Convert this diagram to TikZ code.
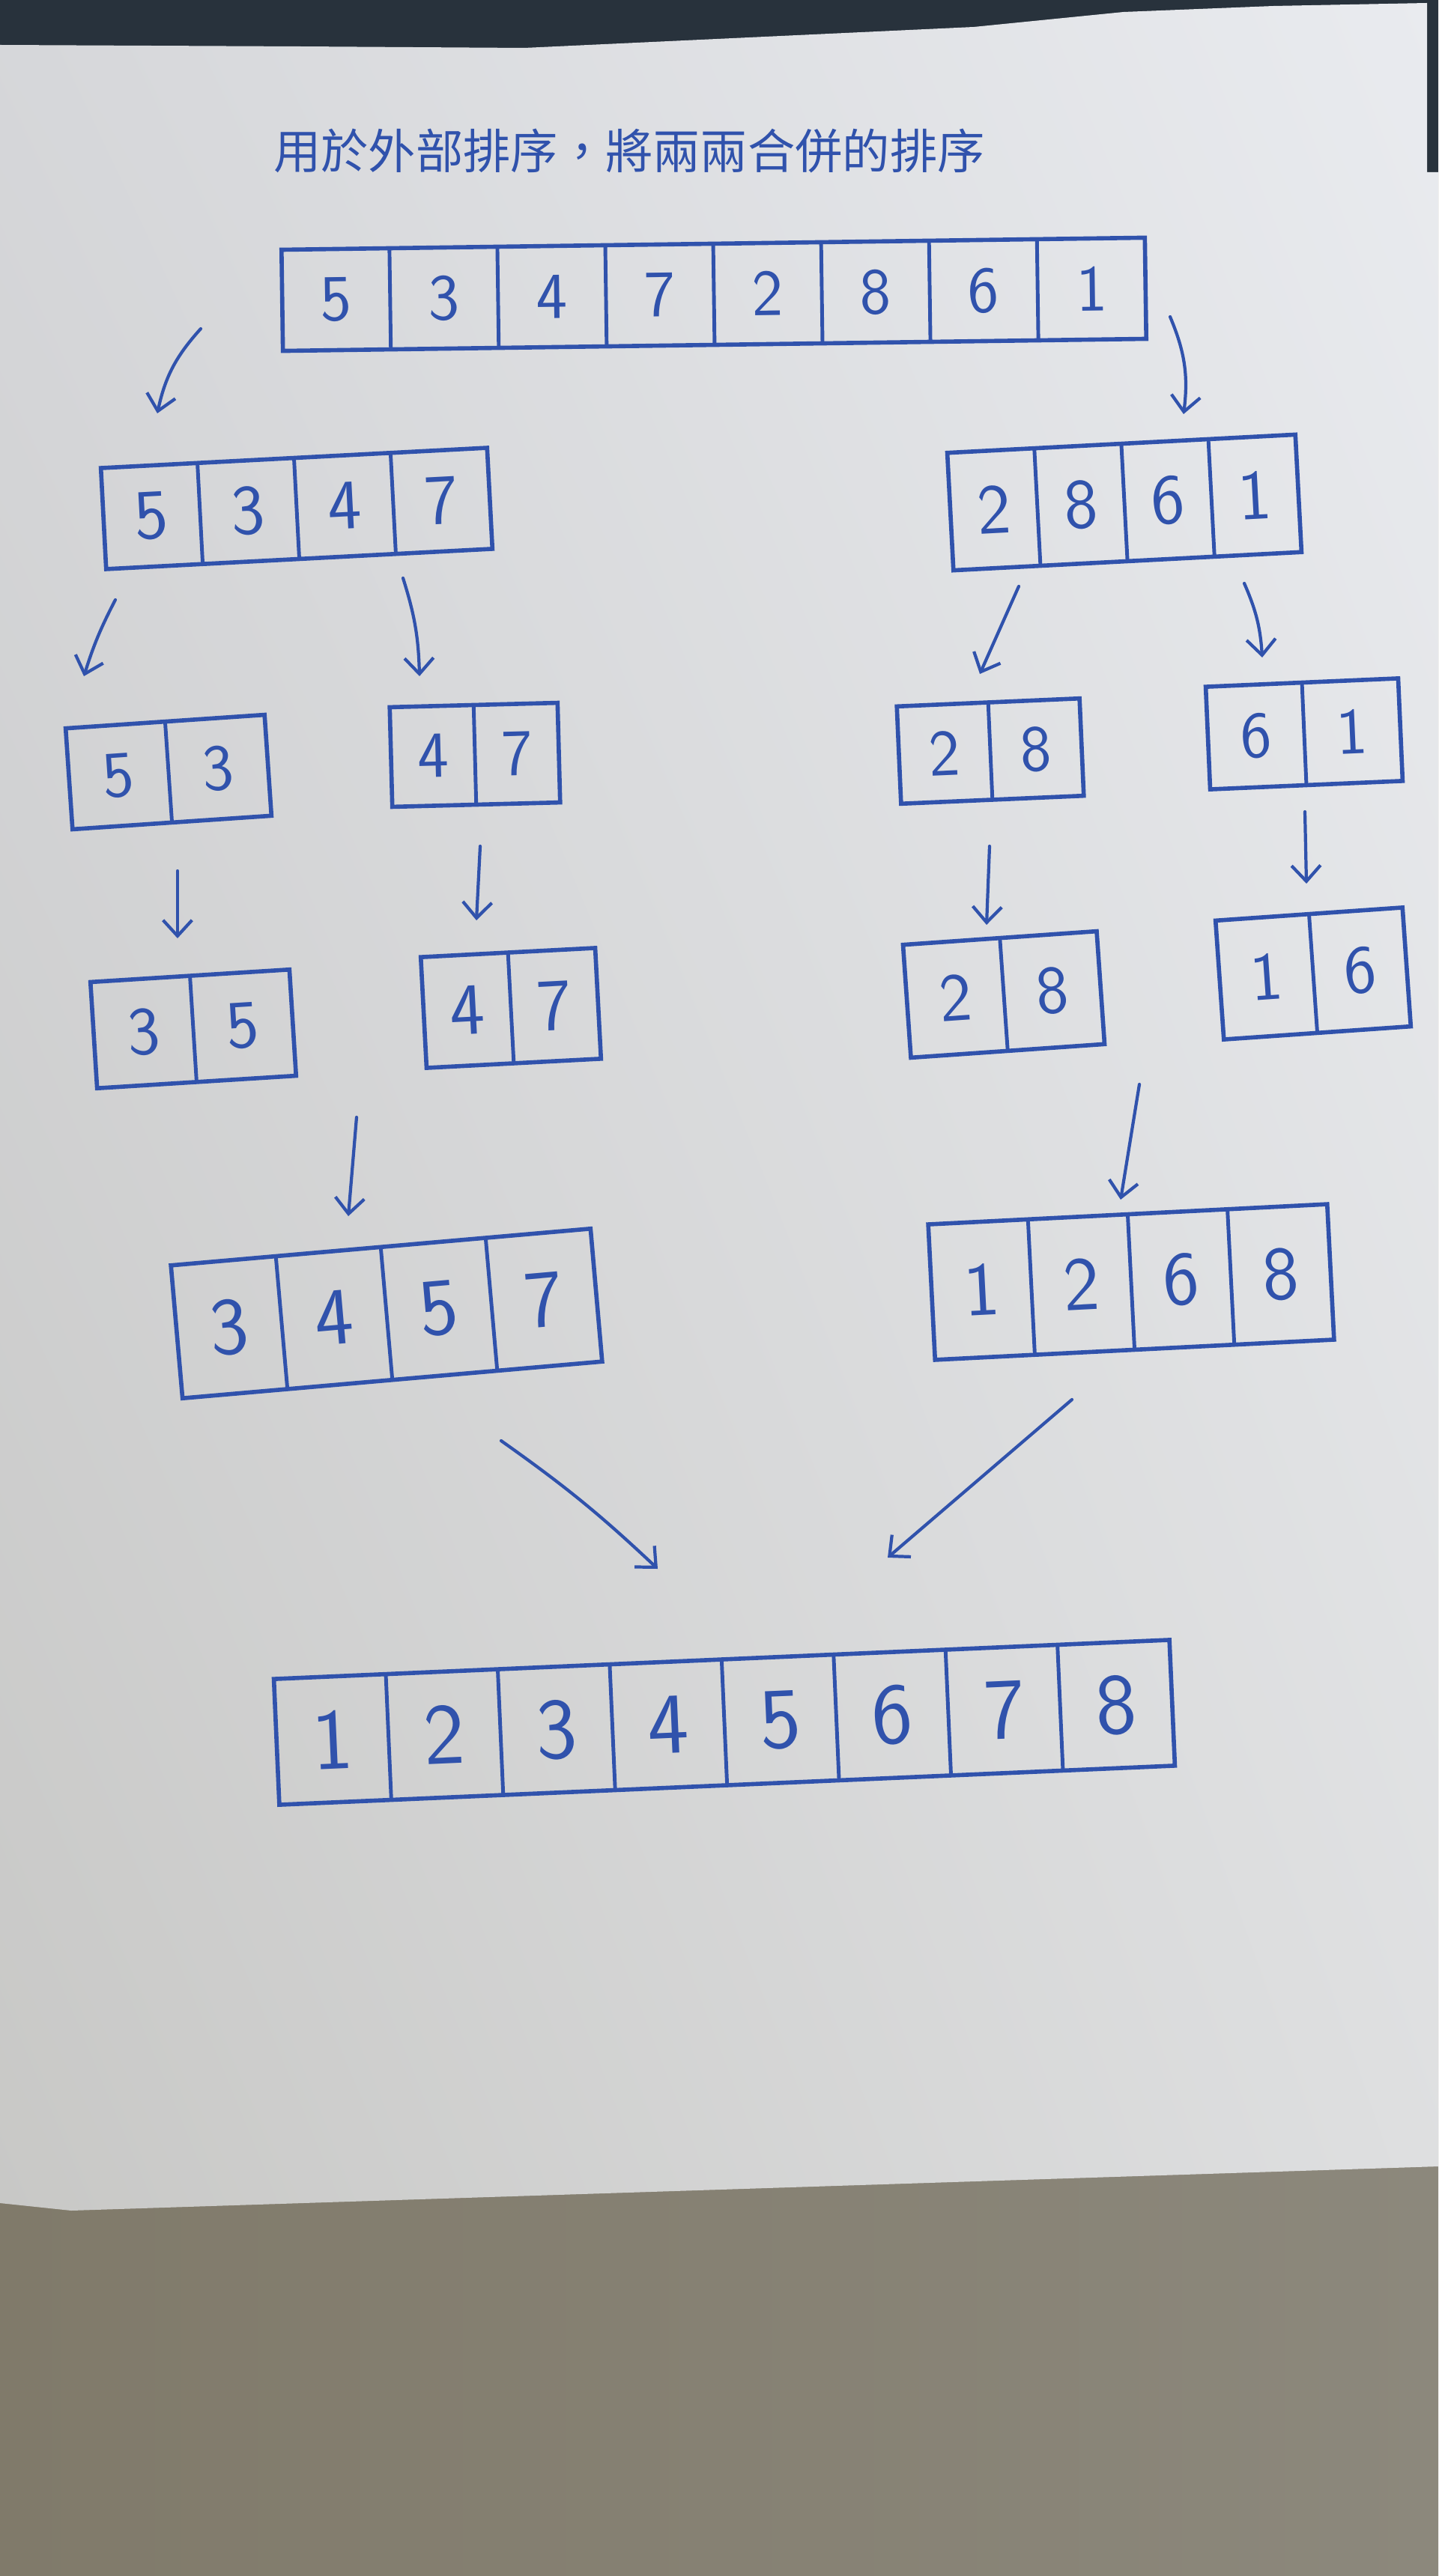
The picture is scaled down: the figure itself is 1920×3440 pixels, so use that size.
\documentclass[tikz,border=0pt]{standalone}
\usepackage{fontspec}
\newfontfamily\cjk{Noto Sans CJK TC}
\usetikzlibrary{calc,arrows.meta,shadings}

\definecolor{ink}{RGB}{48,82,172}
\definecolor{topdark}{RGB}{40,50,60}
\definecolor{tableL}{RGB}{128,122,106}
\definecolor{tableR}{RGB}{140,136,124}
\definecolor{paperTL}{RGB}{214,215,218}
\definecolor{paperTR}{RGB}{233,235,239}
\definecolor{paperBL}{RGB}{200,200,198}
\definecolor{paperBR}{RGB}{222,223,224}

% a row of numbered cells: name, x, y, width, height, tilt, cells, values, digit size
\newcommand\cellrow[9]{%
  \node[frame, minimum width=#4, minimum height=#5, rotate=#6] (#1) at (#2,#3) {};
  \pgfmathtruncatemacro\lastdiv{#7-1}
  \foreach \k in {1,...,\lastdiv}
    \draw[frameline] ($(#1.north west)!{\k/#7}!(#1.north east)$) -- ($(#1.south west)!{\k/#7}!(#1.south east)$);
  \foreach \v [count=\k] in {#8}
    \node[digit, font=\sffamily\fontsize{#9}{#9}\selectfont, rotate=#6] (#1-\k)
      at ($(#1.west)!{(2*\k-1)/(2*#7)}!(#1.east)$) {\v};
}

\begin{document}
\begin{tikzpicture}[x=0.01cm, y=-0.01cm,
  frame/.style={draw=ink, line width=1.6pt, inner sep=0pt, outer sep=0pt},
  frameline/.style={draw=ink, line width=1.4pt},
  digit/.style={text=ink, inner sep=0pt},
  flow/.style={draw=ink, line width=1.2pt, line cap=round,
    -{Straight Barb[length=6pt, width=11pt]}},
  heading/.style={text=ink, inner sep=0pt, font=\cjk\fontsize{18pt}{21pt}\selectfont}]

\useasboundingbox (0,0) rectangle (1920,3440);

% table surface and the dark band behind the sheet
\shade[left color=tableL, right color=tableR] (0,0) rectangle (1920,3440);
\fill[topdark] (0,0) rectangle (1920,300);

% the sheet of paper
\shade[upper left=paperTL, upper right=paperTR, lower left=paperBL, lower right=paperBR]
  (0,60) -- (400,62) -- (700,64) -- (1000,50) -- (1300,36) -- (1500,16) -- (1700,8)
  -- (1905,4) -- (1905,230) -- (1920,230) -- (1920,2893) -- (95,2952) -- (0,2942) -- cycle;

% heading
\node[heading] (title) at (840,202) {用於外部排序，將兩兩合併的排序};

% split levels
\cellrow{T}{953}{393}{11.52cm}{1.35cm}{0.8}{8}{5,3,4,7,2,8,6,1}{25pt}
\cellrow{La}{396}{679}{5.16cm}{1.35cm}{3}{4}{5,3,4,7}{27pt}
\cellrow{Lb}{1501}{671}{4.65cm}{1.57cm}{3}{4}{2,8,6,1}{27pt}
\cellrow{Pa}{225}{1031}{2.66cm}{1.35cm}{3.9}{2}{5,3}{25pt}
\cellrow{Pb}{634}{1008}{2.24cm}{1.33cm}{1.5}{2}{4,7}{25pt}
\cellrow{Pc}{1322}{1003}{2.44cm}{1.30cm}{2.5}{2}{2,8}{25pt}
\cellrow{Pd}{1741}{980}{2.57cm}{1.37cm}{2.5}{2}{6,1}{25pt}

% sorted pairs
\cellrow{Sa}{258}{1374}{2.66cm}{1.42cm}{3.6}{2}{3,5}{26pt}
\cellrow{Sb}{682}{1346}{2.33cm}{1.48cm}{3}{2}{4,7}{28pt}
\cellrow{Sc}{1340}{1328}{2.59cm}{1.51cm}{4}{2}{2,8}{26pt}
\cellrow{Sd}{1753}{1300}{2.50cm}{1.59cm}{4}{2}{1,6}{26pt}

% merged halves
\cellrow{Ma}{516}{1754}{5.62cm}{1.78cm}{5}{4}{3,4,5,7}{31pt}
\cellrow{Mb}{1510}{1712}{5.33cm}{1.81cm}{2.9}{4}{1,2,6,8}{29pt}

% final merge
\cellrow{F}{967}{2300}{11.96cm}{1.68cm}{2.5}{8}{1,2,3,4,5,6,7,8}{33pt}

% arrow ends
\coordinate (a1s) at (268,439);   \coordinate (a1e) at (210,552);
\coordinate (a2s) at (1562,423);  \coordinate (a2e) at (1580,553);
\coordinate (a3s) at (154,801);   \coordinate (a3e) at (112,903);
\coordinate (a4s) at (538,772);   \coordinate (a4e) at (560,903);
\coordinate (a5s) at (1360,783);  \coordinate (a5e) at (1308,900);
\coordinate (a6s) at (1661,779);  \coordinate (a6e) at (1685,878);
\coordinate (a7s) at (237,1163);  \coordinate (a7e) at (237,1253);
\coordinate (a8s) at (641,1130);  \coordinate (a8e) at (636,1229);
\coordinate (a9s) at (1321,1130); \coordinate (a9e) at (1317,1235);
\coordinate (a10s) at (1742,1084); \coordinate (a10e) at (1744,1180);
\coordinate (a11s) at (476,1492); \coordinate (a11e) at (465,1624);
\coordinate (a12s) at (1521,1448); \coordinate (a12e) at (1496,1602);
\coordinate (a13s) at (669,1924); \coordinate (a13e) at (878,2095);
\coordinate (a14s) at (1431,1869); \coordinate (a14e) at (1185,2080);

\draw[flow] (a1s) to[bend right=15] (a1e);
\draw[flow] (a2s) to[bend left=15] (a2e);
\draw[flow] (a3s) to[bend right=5] (a3e);
\draw[flow] (a4s) to[bend left=8] (a4e);
\draw[flow] (a5s) -- (a5e);
\draw[flow] (a6s) to[bend left=10] (a6e);
\draw[flow] (a7s) -- (a7e);
\draw[flow] (a8s) -- (a8e);
\draw[flow] (a9s) -- (a9e);
\draw[flow] (a10s) -- (a10e);
\draw[flow] (a11s) -- (a11e);
\draw[flow] (a12s) -- (a12e);
\draw[flow] (a13s) to[bend left=4] (a13e);
\draw[flow] (a14s) -- (a14e);
\end{tikzpicture}
\end{document}
